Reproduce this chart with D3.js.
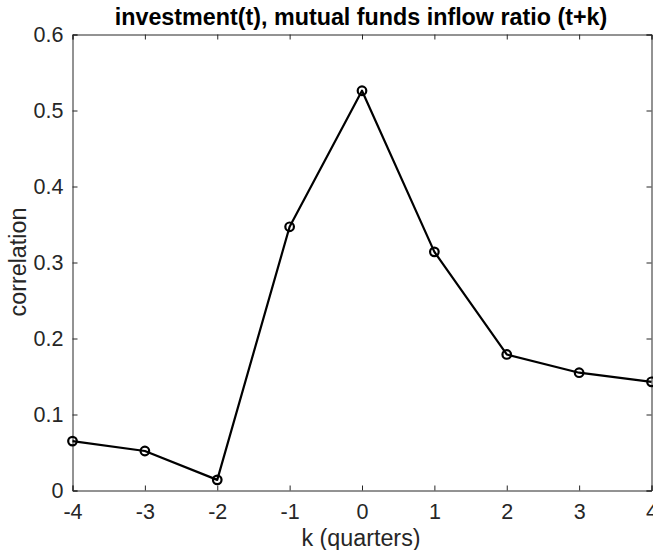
<!DOCTYPE html>
<html><head><meta charset="utf-8">
<script src="https://cdn.jsdelivr.net/npm/d3@7"></script>
<style>body{margin:0;background:#fff}svg{display:block}</style>
</head><body>
<script>
const kValues = [-4, -3, -2, -1, 0, 1, 2, 3, 4];
const correlation = [0.065, 0.052, 0.014, 0.347, 0.526, 0.314, 0.179, 0.155, 0.143];
const xTicks = [-4, -3, -2, -1, 0, 1, 2, 3, 4];
const yTicks = [0, 0.1, 0.2, 0.3, 0.4, 0.5, 0.6];
const titleText = "investment(t), mutual funds inflow ratio (t+k)";

const W = 653, H = 550;
const m = {left: 72.5, top: 34.5, right: 651.5, bottom: 490.5};
const FF = "'Liberation Sans', Arial, Helvetica, sans-serif";
const svg = d3.select("body").append("svg").attr("width", W).attr("height", H)
  .style("font-family", FF);
const x = d3.scaleLinear().domain([-4, 4]).range([m.left, m.right]);
const y = d3.scaleLinear().domain([0, 0.6]).range([m.bottom, m.top]);
const axCol = "#262626";

svg.append("g").attr("transform", `translate(0,${m.bottom})`)
  .call(d3.axisBottom(x).tickValues(xTicks).tickSize(-5).tickPadding(13).tickFormat(d => String(d)));
svg.append("g").attr("transform", `translate(${m.left},0)`)
  .call(d3.axisLeft(y).tickValues(yTicks).tickSize(-5).tickPadding(9).tickFormat(d => d === 0 ? "0" : d.toFixed(1)));
svg.append("g").attr("transform", `translate(0,${m.top})`)
  .call(d3.axisTop(x).tickValues(xTicks).tickSize(-5).tickFormat(""));
svg.append("g").attr("transform", `translate(${m.right},0)`)
  .call(d3.axisRight(y).tickValues(yTicks).tickSize(-5).tickFormat(""));
svg.selectAll(".domain").attr("stroke", axCol);
svg.selectAll(".tick line").attr("stroke", axCol);
svg.selectAll("g").attr("font-family", FF).attr("font-size", 21.5);
svg.selectAll(".tick text").attr("fill", axCol);

const line = d3.line().x((d, i) => x(kValues[i])).y(d => y(d));
svg.append("path").datum(correlation).attr("d", line)
  .attr("fill", "none").attr("stroke", "#000").attr("stroke-width", 2.2).attr("stroke-linejoin", "round");
svg.selectAll("circle.pt").data(correlation).enter().append("circle")
  .attr("cx", (d, i) => x(kValues[i])).attr("cy", d => y(d)).attr("r", 4.3)
  .attr("fill", "none").attr("stroke", "#000").attr("stroke-width", 2.2);

svg.append("text").attr("x", 361).attr("y", 25).attr("text-anchor", "middle")
  .attr("font-size", 23.3).attr("font-weight", "bold").attr("fill", "#000").text(titleText);
svg.append("text").attr("x", 361).attr("y", 546).attr("text-anchor", "middle")
  .attr("font-size", 23.3).attr("fill", axCol).text("k (quarters)");
svg.append("text").attr("transform", `translate(26,262) rotate(-90)`).attr("text-anchor", "middle")
  .attr("font-size", 23.3).attr("fill", axCol).text("correlation");
</script>
</body></html>
